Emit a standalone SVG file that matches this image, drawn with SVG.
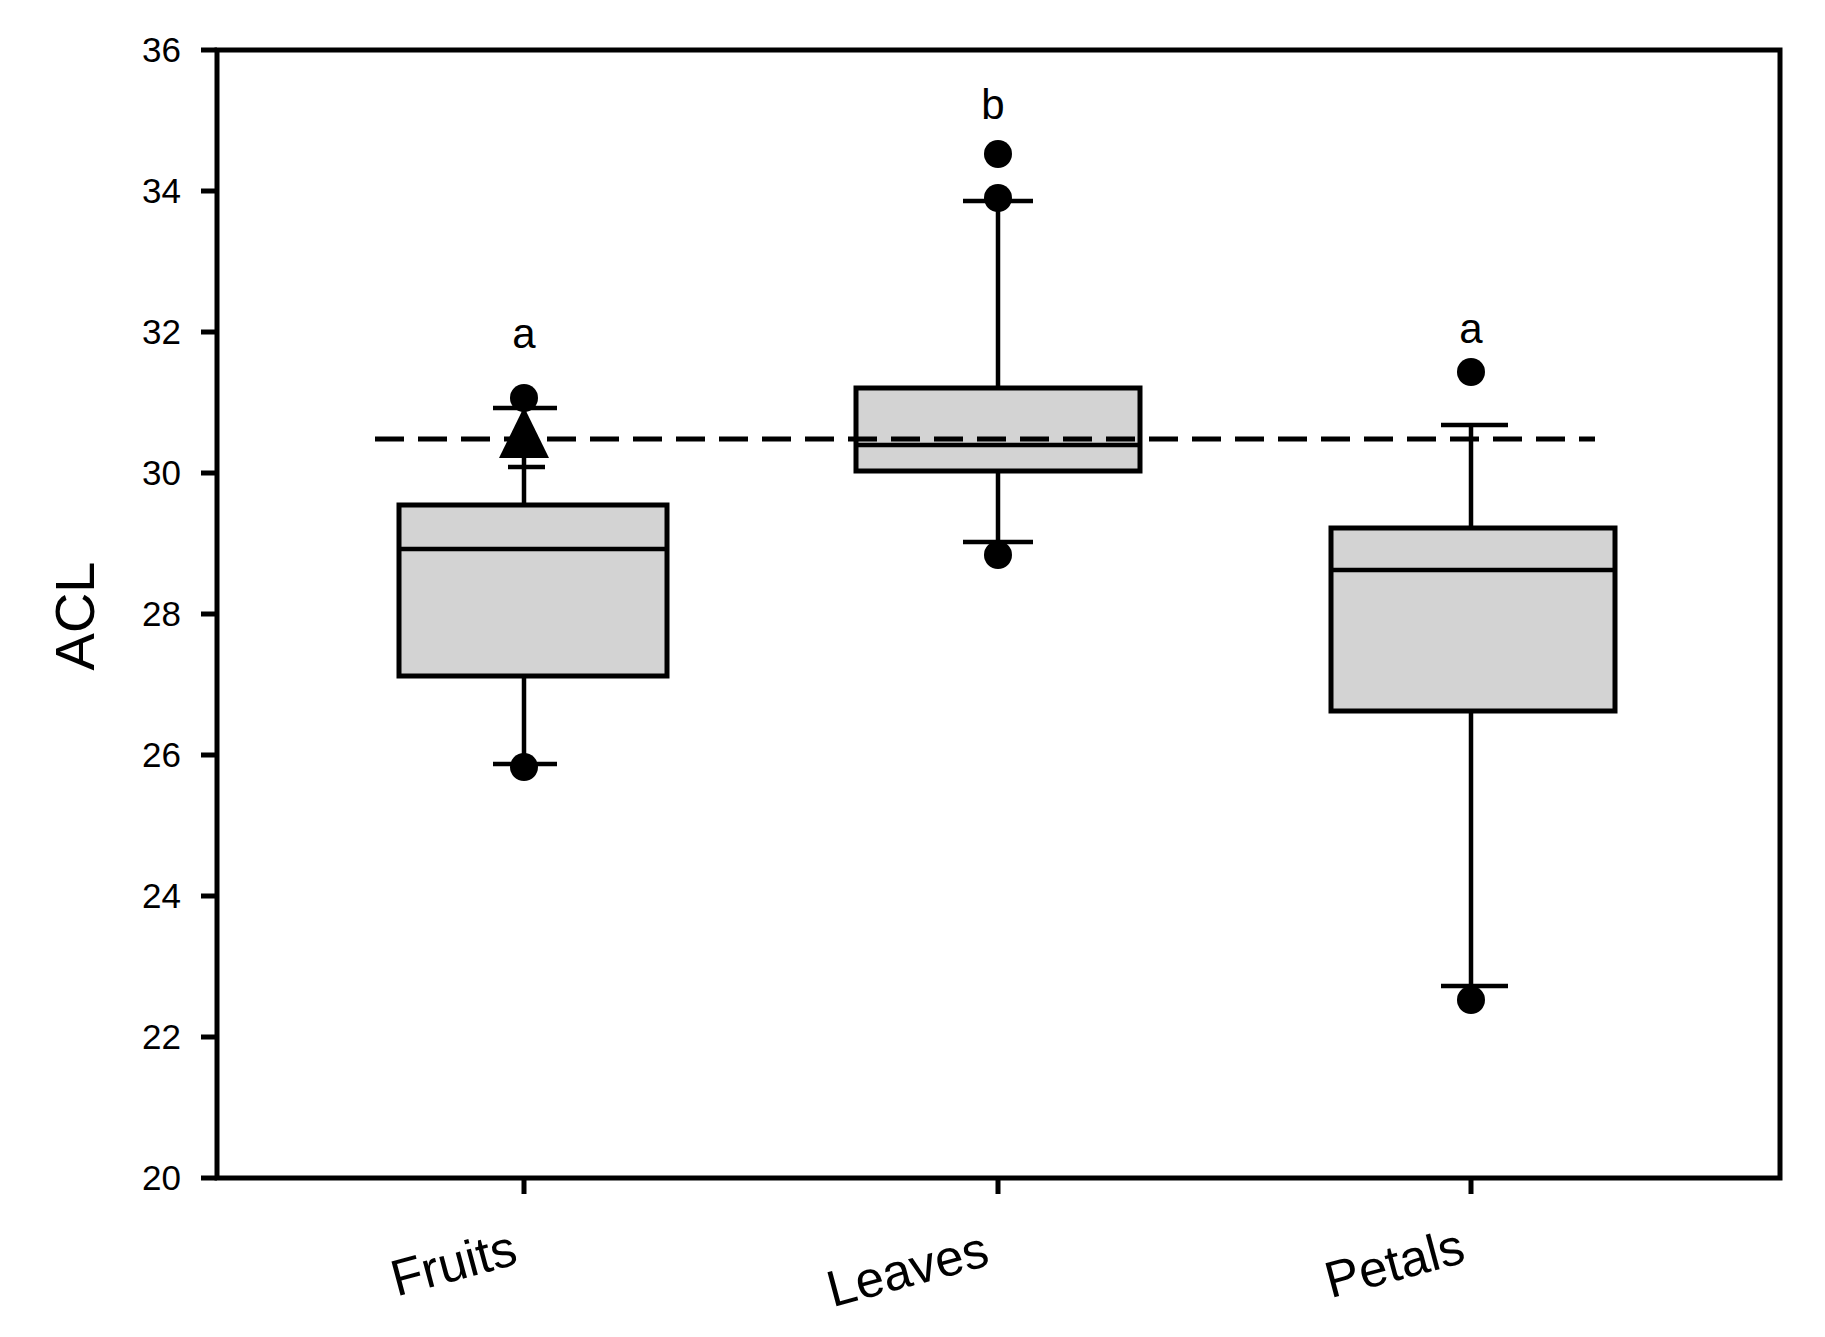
<svg xmlns="http://www.w3.org/2000/svg" width="1825" height="1337" viewBox="0 0 1825 1337">
<style>
text{font-family:"Liberation Sans",Arial,sans-serif;fill:#000}
.yl{font-size:35px;text-anchor:end}
.xl{font-size:51px;text-anchor:middle}
.lt{font-size:42px;text-anchor:middle}
.box{fill:#d3d3d3;stroke:#000;stroke-width:5}
.ln{stroke:#000;stroke-width:4.5;fill:none}
.ax{stroke:#000;stroke-width:5;fill:none}
</style>
<rect width="1825" height="1337" fill="#fff"/>
<g id="axes">
<rect class="ax" x="217" y="50" width="1563" height="1128"/>
<path class="ax" d="M201 50H217M201 191H217M201 332H217M201 473H217M201 614H217M201 755H217M201 896H217M201 1037H217M201 1178H217M524 1178V1194M998 1178V1194M1471 1178V1194"/>
<text class="yl" x="181" y="62">36</text>
<text class="yl" x="181" y="203">34</text>
<text class="yl" x="181" y="344">32</text>
<text class="yl" x="181" y="485">30</text>
<text class="yl" x="181" y="626">28</text>
<text class="yl" x="181" y="767">26</text>
<text class="yl" x="181" y="908">24</text>
<text class="yl" x="181" y="1049">22</text>
<text class="yl" x="181" y="1190">20</text>
<text x="76" y="616" font-size="56" text-anchor="middle" transform="rotate(-90 76 616)" dy="18">ACL</text>
<text class="xl" transform="translate(458 1280) rotate(-15)">Fruits</text>
<text class="xl" transform="translate(912 1286) rotate(-15)">Leaves</text>
<text class="xl" transform="translate(1399 1280) rotate(-15)">Petals</text>
</g>
<g id="fruits">
<path class="ln" d="M524 505V408M493 408H557M524 676V764M493 764H557M508 467H545"/>
<rect class="box" x="399" y="505" width="268" height="171"/>
<path class="ln" d="M399 549H667"/>
<circle cx="524" cy="398" r="14"/>
<circle cx="524" cy="767" r="14"/>
<path d="M524 407L549 458H499Z"/>
<text class="lt" x="524" y="348">a</text>
</g>
<g id="leaves">
<path class="ln" d="M998 388V201M963 201H1033M998 471V542M963 542H1033"/>
<rect class="box" x="856" y="388" width="284" height="83"/>
<path class="ln" d="M856 445H1140"/>
<circle cx="998" cy="154" r="14"/>
<circle cx="998" cy="198" r="14"/>
<circle cx="998" cy="555" r="14"/>
<text class="lt" x="993" y="119">b</text>
</g>
<g id="petals">
<path class="ln" d="M1471 528V425M1441 425H1508M1471 711V986M1441 986H1508"/>
<rect class="box" x="1331" y="528" width="284" height="183"/>
<path class="ln" d="M1331 570H1615"/>
<circle cx="1471" cy="372" r="14"/>
<circle cx="1471" cy="1000" r="14"/>
<text class="lt" x="1471" y="343">a</text>
</g>
<g id="connectors">
<path d="M375 439H1595" stroke="#000" stroke-width="5" stroke-dasharray="29 14" fill="none"/>
</g>
</svg>
